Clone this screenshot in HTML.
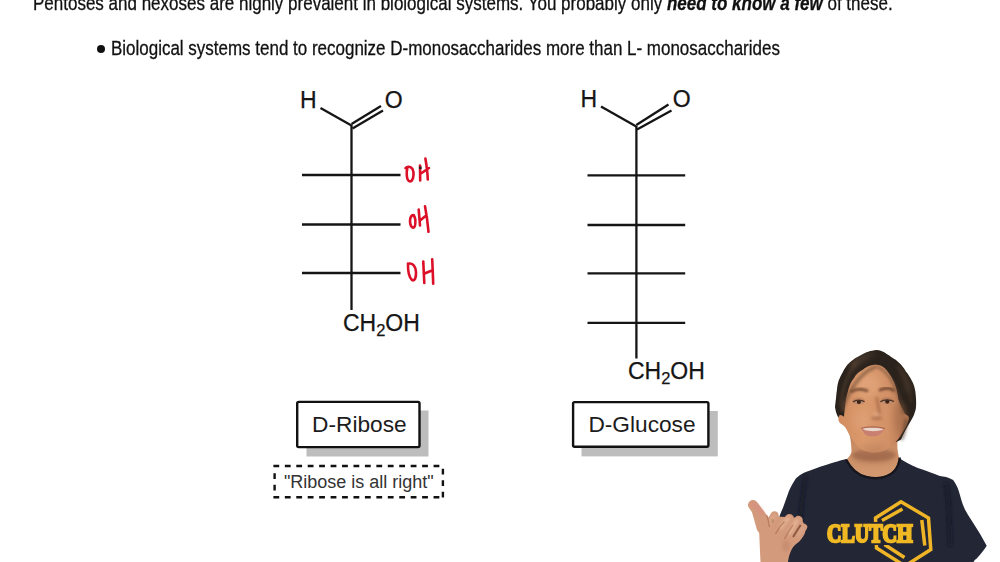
<!DOCTYPE html>
<html><head><meta charset="utf-8">
<style>
html,body{margin:0;padding:0;}
body{width:1000px;height:562px;overflow:hidden;background:#fff;position:relative;font-family:"Liberation Sans",sans-serif;color:#111;}
.t{position:absolute;white-space:nowrap;transform-origin:0 0;line-height:1;-webkit-text-stroke:0.3px #111;}
#l1{left:33px;top:-6.6px;font-size:20.5px;transform:scaleX(0.829);}
#l2{left:96px;top:37.5px;font-size:20.5px;transform:scaleX(0.828);}
svg{position:absolute;left:0;top:0;}
.lab{position:absolute;font-size:22px;line-height:1;white-space:nowrap;color:#1a1a1a;}
.box{position:absolute;background:#fff;border:2.5px solid #111;box-sizing:border-box;}
.sh{position:absolute;background:#bdbdbd;}
</style></head><body>
<div class="t" id="l1">Pentoses and hexoses are highly prevalent in biological systems. You probably only <b><i>need to know a few</i></b> of these.</div>
<div style="position:absolute;left:97px;top:44.8px;width:8px;height:8px;border-radius:50%;background:#111;"></div>
<div class="t" id="l2"><span style="visibility:hidden">●</span> Biological systems tend to recognize D-monosaccharides more than L- monosaccharides</div>

<svg width="1000" height="562" viewBox="0 0 1000 562">
  <g stroke="#151515" stroke-width="2.3" fill="none" stroke-linecap="butt">
    <!-- ribose -->
    <line x1="320.5" y1="108" x2="351.5" y2="125.5"/>
    <line x1="351.5" y1="124" x2="381" y2="106"/>
    <line x1="352.5" y1="128.5" x2="383" y2="110.5"/>
    <line x1="351.5" y1="125" x2="351.5" y2="310"/>
    <line x1="302" y1="175" x2="400.5" y2="175"/>
    <line x1="302" y1="224.5" x2="400.5" y2="224.5"/>
    <line x1="302" y1="273" x2="400.5" y2="273"/>
    <!-- glucose -->
    <line x1="601" y1="106.5" x2="636.3" y2="126.5"/>
    <line x1="636.3" y1="125" x2="668.5" y2="104.5"/>
    <line x1="637" y1="129.5" x2="671.5" y2="110.5"/>
    <line x1="636.4" y1="126" x2="636.4" y2="358.5"/>
    <line x1="587.5" y1="175.4" x2="685.2" y2="175.4"/>
    <line x1="587.5" y1="225" x2="685.2" y2="225"/>
    <line x1="587.5" y1="273.3" x2="685.2" y2="273.3"/>
    <line x1="587.5" y1="322.9" x2="685.2" y2="322.9"/>
  </g>
  <!-- handwritten red OH -->
  <g stroke="#dc1028" stroke-width="2.6" fill="none" stroke-linecap="round" stroke-linejoin="round">
    <path d="M405.5 168 C407 166.3 410.5 166 412.5 169 C414 172 414 178.5 411.5 181 C409 182.5 407 180 406.8 175.5 C406.6 172 406.8 170 407.3 168.5"/>
    <path d="M420 165.5 L420.2 180.5 M420.2 174 L429 168 M425.4 158.5 C426.5 165 427.5 172 427.8 179.5"/>
    <path d="M414 215.3 C411.5 214.3 410 217.5 410 221 C410 225 411.5 227.8 413.3 227.6 C415 227.3 415.6 223.5 415.3 219.5 C415 217 414.3 216 413.3 215.5"/>
    <path d="M418.7 209.5 L420 225.5 M420 220.5 L426.5 215.2 M425 206.3 C426.5 214 427.8 224 428.5 231.8"/>
    <path d="M408 263.5 C407.8 270 408.8 277 412 280 C414.8 281.5 416.3 277.5 416 272 C415.6 266.5 413 263 409.5 263.5"/>
    <path d="M423.3 261.5 C423.5 268 424 276 424.3 283 M424 273.7 L432.5 270.2 M432.2 259.3 C432.6 268 433 276 433.2 283.8"/>
  </g>
  <rect x="419" y="166.5" width="2.6" height="2.6" fill="#222"/>
</svg>

<svg width="1000" height="562" viewBox="0 0 1000 562" style="position:absolute;left:0;top:0;">
  <rect x="306.5" y="410.5" width="122" height="46" fill="#bdbdbd"/>
  <rect x="581.5" y="411" width="136.3" height="45.4" fill="#bdbdbd"/>
  <rect x="297.2" y="401.9" width="122.3" height="45.2" rx="1.5" fill="#fff" stroke="#111" stroke-width="2.4"/>
  <rect x="573.1" y="402.1" width="135.3" height="44.6" rx="1.5" fill="#fff" stroke="#111" stroke-width="2.4"/>
  <g stroke="#111" stroke-width="2.4" stroke-dasharray="5.8 5.64" fill="none">
    <path d="M273.4 466 H440"/>
    <path d="M273.4 497.2 H440"/>
    <path d="M274.6 473.2 V491"/>
    <path d="M442.9 468.8 V497.5"/>
  </g>
</svg>
<svg width="1000" height="562" viewBox="0 0 1000 562" style="position:absolute;left:0;top:0;">
  <g font-family="Liberation Sans" fill="#151515" stroke="#151515" stroke-width="0.25">
    <text x="300" y="108" font-size="23">H</text>
    <text x="384.7" y="108" font-size="23">O</text>
    <text x="342.9" y="330.6" font-size="23">CH<tspan font-size="16.5" dy="5">2</tspan><tspan dy="-5">OH</tspan></text>
    <text x="580.6" y="106.5" font-size="23">H</text>
    <text x="672.7" y="107.2" font-size="23">O</text>
    <text x="627.9" y="379" font-size="23">CH<tspan font-size="16.5" dy="5">2</tspan><tspan dy="-5">OH</tspan></text>
  </g>
  <g font-family="Liberation Sans" fill="#1c1c1c">
    <text x="312.1" y="432.2" font-size="22.7">D-Ribose</text>
    <text x="588.4" y="432.4" font-size="22.7">D-Glucose</text>
    <text x="283.9" y="488.2" font-size="18" fill="#333">"Ribose is all right"</text>
  </g>
</svg>
<svg width="1000" height="562" viewBox="0 0 1000 562" style="position:absolute;left:0;top:0;">
  <defs>
    <filter id="soft" x="-10%" y="-10%" width="120%" height="120%"><feGaussianBlur stdDeviation="0.6"/></filter>
    <filter id="soft2" x="-30%" y="-30%" width="160%" height="160%"><feGaussianBlur stdDeviation="1.6"/></filter>
    <filter id="soft2b" x="-30%" y="-30%" width="160%" height="160%"><feGaussianBlur stdDeviation="0.9"/></filter>
    <clipPath id="hairClip"><path d="M877 350 C870 350.5 866 352.5 862 354.5 C857 357 853 359.5 849.4 362.8 C846 366 844.5 369 843 371.7 C841 375 839.7 378 838.7 380.6 C837.6 384 837.2 387 837 389.5 C836.5 393 836.2 396 836 398.4 C835.5 402 835.2 405 835 407 C835.5 411 836.5 414 838 417 L846 424 C848 433 851 438 856 442 L896 442 C899 440.5 900 440 901 439.4 C903 435 905 431 906.3 428.7 C909 424 911.5 420 913.5 416 C915 412 916 409 916 407 C916.2 404 916.2 401 916 398.4 C915.8 395 915.5 392 915 389.5 C914 385 913 383 911.7 380.6 C910 377 908 374 906 371.7 C904 368 901.5 365 899 362.8 C897 360.5 894.5 359 892 357.5 C890 356 888.5 355 886.7 354 C884 352 881.5 350.5 877 350 Z"/></clipPath>
    <filter id="soft3" x="-30%" y="-30%" width="160%" height="160%"><feGaussianBlur stdDeviation="3"/></filter>
    <linearGradient id="faceG" x1="0" y1="0" x2="1" y2="0">
      <stop offset="0" stop-color="#d18c60"/>
      <stop offset="0.35" stop-color="#db9a6c"/>
      <stop offset="0.7" stop-color="#d39167"/>
      <stop offset="1" stop-color="#ad724e"/>
    </linearGradient>
    <linearGradient id="neckG" x1="0" y1="0" x2="0" y2="1">
      <stop offset="0" stop-color="#a8704f"/>
      <stop offset="0.35" stop-color="#c98b64"/>
      <stop offset="1" stop-color="#d49a70"/>
    </linearGradient>
    <linearGradient id="handG" x1="0" y1="0" x2="1" y2="0.6">
      <stop offset="0" stop-color="#d6957c"/>
      <stop offset="0.5" stop-color="#d49c7c"/>
      <stop offset="1" stop-color="#c08668"/>
    </linearGradient>
  </defs>
  <g filter="url(#soft)">
    <!-- shirt -->
    <path fill="#222636" d="M846.6 459 C838 461 830 463.5 825.8 465 C818 467.5 811 470 805.8 472 C799 475 796 478 794.9 480 C791 486 789 491 787.9 493.9 L783 507.8 C781 512 780 515 779 517.8 C774 532 770 546 766 562 L973.6 562 C974.5 560 975.5 559.5 976.5 558.8 C979 556 981.5 553 983.8 550 C985 548.5 986 547 986.7 545.7 C983 539 980 533.5 976.5 528.2 C972 521 968 515 964.8 509.2 C962 503 960.5 497 959 491.7 C957.5 487 955.5 483 953.1 480 C948 477 944 476.5 939.8 476 C932 473 925 470 917.8 468 C910 465 904 461 899 458 Z"/>
    
    <!-- neck -->
    <path fill="url(#neckG)" d="M846 425 C850 430 851.5 445 851.5 452 C851 455 848 458 846.6 459.5 C850 468 857 474 866 476 C870 477 873 477.5 876 477.5 C883 477 889 475 893 471 C897 467 899 461 899 457.5 C897.5 452 897 446 897.5 439 L900 425 Z"/>
    <!-- collar rib -->
    <path fill="none" stroke="#12141e" stroke-width="2.4" d="M846 459.5 C851 469 858 475 866 476.8 C870 477.8 873 478.2 876 478.2 C884 477.8 890 475.5 894 471.5 C898 467 899.5 462 899.8 457.5"/>
  </g>
  <g filter="url(#soft2)">
    <path d="M946 483 C949 500 950 525 950 546" stroke="#151824" stroke-width="3.5" fill="none" opacity="0.6"/>
    <path d="M806 476 C803 490 801.5 505 800.5 520" stroke="#12151e" stroke-width="3" fill="none" opacity="0.6"/>
    <ellipse cx="874" cy="455" rx="22" ry="6" fill="#8e5a40" opacity="0.55"/>
  </g>
  <!-- hair back mass -->
  <path filter="url(#soft)" fill="#29211a" d="M877 350 C870 350.5 866 352.5 862 354.5 C857 357 853 359.5 849.4 362.8 C846 366 844.5 369 843 371.7 C841 375 839.7 378 838.7 380.6 C837.6 384 837.2 387 837 389.5 C836.5 393 836.2 396 836 398.4 C835.5 402 835.2 405 835 407 C835.5 411 836.5 414 838 417 L846 424 C848 433 851 438 856 442 L896 442 C899 440.5 900 440 901 439.4 C903 435 905 431 906.3 428.7 C909 424 911.5 420 913.5 416 C915 412 916 409 916 407 C916.2 404 916.2 401 916 398.4 C915.8 395 915.5 392 915 389.5 C914 385 913 383 911.7 380.6 C910 377 908 374 906 371.7 C904 368 901.5 365 899 362.8 C897 360.5 894.5 359 892 357.5 C890 356 888.5 355 886.7 354 C884 352 881.5 350.5 877 350 Z"/>
  <!-- face -->
  <path filter="url(#soft)" fill="url(#faceG)" d="M847.4 393.4 C849 386 851 381 853.8 378.4 C856 374 859 371.5 862.4 369.9 C866 367 869.5 365.5 873 365 C876 364.6 878.5 364.8 880.5 365.6 C884 367 886 369.5 888 372 C890.5 375 892.5 379 894.4 382.7 C896.5 388 897.8 394 898.6 400 C900.5 405 903 410 905 414 C907 415 908.5 416 909 417.7 C908.5 421 907 424 906.4 425.7 C904.5 429 903 432 901 435 C899 438.5 897.5 440 895.8 441.7 C892 446 888 449 883.7 451 C879 452.6 875 453 871.7 452.4 C867 452 863 450.5 859.7 448.4 C856.5 445.5 854 442 851.7 439 C849 434 847 430 845 427 C843.5 425.5 842 424.5 840.5 423.5 C839 422 838.3 420.5 838.4 419.5 C838.3 417 839 415.5 840 415 C842 415 843.5 416 844 417 C844.5 410 845.5 400 847.4 393.4 Z"/>
  <!-- face shading -->
  <g filter="url(#soft3)">
    <ellipse cx="868" cy="385" rx="13" ry="11" fill="#e4a880" opacity="0.55"/>
    <ellipse cx="862" cy="420" rx="9" ry="9" fill="#e1a37c" opacity="0.5"/>
    <ellipse cx="900" cy="418" rx="6" ry="16" fill="#9c6446" opacity="0.45"/>
    <ellipse cx="873" cy="448" rx="14" ry="4" fill="#b97c5a" opacity="0.5"/>
    <ellipse cx="873" cy="458" rx="20" ry="5" fill="#9a6247" opacity="0.45"/>
  </g>
  <!-- hair strands / highlights -->
  <g clip-path="url(#hairClip)"><g filter="url(#soft3)" opacity="0.5">
    <path d="M850 362 C858 355 868 352 878 352 C870 356 860 362 852 372 Z" fill="#6e5644"/>
    <path d="M900 366 C906 372 910 380 912 392 L906 392 C904 382 902 374 898 368 Z" fill="#5e4838"/>
  </g></g>
  <g filter="url(#soft2)" fill="none" stroke-linecap="round">
    <path d="M875 367 C865 371 856 381 850 392 C847 398 844 404 842.5 410" stroke="#6e4c35" stroke-width="3.2" opacity="0.65"/>
    <path d="M878 367 C887 371 893 381 897.5 392 C900.5 400 902.5 406 903.5 413" stroke="#5e412e" stroke-width="3" opacity="0.55"/>
    <path d="M856 363 C849 372 843 386 840.5 405" stroke="#5a4232" stroke-width="3" opacity="0.55"/>
    <path d="M897 366 C905 374 909 386 911 402" stroke="#4a3628" stroke-width="2.5" opacity="0.5"/>
    <path d="M906 420 C905 428 904 434 902 439" stroke="#3a2a20" stroke-width="2.5" opacity="0.6"/>
  </g>
  <g filter="url(#soft)">
    <!-- eyebrows -->
    <g filter="url(#soft2b)"><path d="M850.5 392 C854 390 858 389.2 862 389.4 C864.5 389.6 866.5 390.3 868 391.2" stroke="#6e4430" stroke-width="3" fill="none" opacity="0.85"/>
    <path d="M879 390.5 C882 389 885 388 888 388.2 C890.5 388.5 892.5 389.5 894.5 391" stroke="#6a412c" stroke-width="3" fill="none" opacity="0.85"/></g>
    <!-- eye sockets -->
    <ellipse cx="858.7" cy="401" rx="6.5" ry="3.5" fill="#b77d5c" opacity="0.6"/>
    <ellipse cx="887.1" cy="400.6" rx="6.5" ry="3.5" fill="#ad7656" opacity="0.6"/>
    <!-- eyes -->
    <path d="M853.3 402.3 C856 400.2 861.5 400.2 864.3 402.3 C861.5 404 856 404 853.3 402.3 Z" fill="#bf917a"/>
    <path d="M880.5 402 C884 399.8 890 399.8 893.8 402 C890 403.8 884 403.8 880.5 402 Z" fill="#bf917a"/>
    <circle cx="858.9" cy="402" r="2.1" fill="#3b2418"/>
    <circle cx="887.3" cy="401.6" r="2.1" fill="#3b2418"/>
    <path d="M853 402 C856 399.6 861.5 399.6 864.5 401.8" stroke="#4a3024" stroke-width="1.2" fill="none"/>
    <path d="M880.3 401.7 C884 399.3 890 399.3 894 401.6" stroke="#4a3024" stroke-width="1.2" fill="none"/>
  </g>
  <g filter="url(#soft2)">
    <!-- nose shading -->
    <path d="M876.5 397 C878 403 879 409 879.5 414" stroke="#9a5e40" stroke-width="2.6" fill="none" opacity="0.7"/>
    <ellipse cx="876.5" cy="418" rx="5.5" ry="1.8" fill="#955c40" opacity="0.65"/>
    <ellipse cx="876" cy="414.5" rx="2.5" ry="2" fill="#eab591" opacity="0.6"/>
  </g>
  <g filter="url(#soft)">
    <!-- mouth -->
    <path d="M861.5 428.5 C868 426.5 877 426.5 884.5 428.8 C882 434 878 436.5 872 436.5 C866.5 436.5 863 433.5 861.5 428.5 Z" fill="#c98070"/>
    <path d="M862.5 428.8 C868 427.5 877 427.5 883.5 429 C881 431.8 866 432 862.5 428.8 Z" fill="#ead8cc"/>
    <path d="M861 428.3 C868 426.3 877 426.3 885 428.5" stroke="#9a5a44" stroke-width="1" fill="none" opacity="0.8"/>
  </g>
  <!-- logo -->
  <g filter="url(#soft)" stroke="#efb526" stroke-width="3.5" fill="none" stroke-linejoin="miter">
    <path d="M876.5 548 L875.5 518 L901 501.8 L928.5 518 L930.8 549.5 L905 566 Z"/>
    <path d="M882 520.5 L902.5 509"/>
    <path d="M921.8 520 L924.8 545.5"/>
    <path d="M884.5 544.5 L904.5 557.5"/>
  </g>
  <g filter="url(#soft)">
    <rect x="824" y="522" width="91" height="23" fill="#222636"/>
    <text x="827" y="542.3" font-family="Liberation Serif" font-weight="bold" font-size="25" fill="#f0b824" stroke="#f0b824" stroke-width="2.5" textLength="85.5" lengthAdjust="spacingAndGlyphs">CLUTCH</text>
  </g>
  <!-- hand -->
  <g filter="url(#soft)">
    <g fill="#d39a7b" stroke="#d39a7b" stroke-linecap="round">
      <path stroke="none" d="M750 505 L753 503 L766 518 L760 534 L757 530 Z"/>
      <path stroke="none" d="M759 528 C762 522 766 518 770 516 L800 518 C804 522 806 527 805 533 C803 538 799 542 795 545 C791 549 789 555 788 562 L760.5 562 C760 552 759.5 540 759 528 Z"/>
      <line x1="753" y1="505" x2="765" y2="521" stroke-width="10"/>
      <line x1="769.5" y1="527" x2="774.5" y2="515.5" stroke-width="8.5"/>
      <line x1="779" y1="532" x2="789.5" y2="518.5" stroke-width="9"/>
      <line x1="788" y1="537" x2="798.5" y2="520" stroke-width="8.5"/>
      <line x1="797" y1="539" x2="804" y2="527" stroke-width="6.5"/>
    </g>
  </g>
  <g filter="url(#soft2)">
    <path d="M751 503 C755 505 759 509 763 514" stroke="#d98c80" stroke-width="4" fill="none" opacity="0.7"/>
    <path d="M770 524 C771.5 520 773 517 775 515" stroke="#e4b092" stroke-width="3" fill="none" opacity="0.8"/>
    <path d="M780 529 C783 524 786 520 789 517.5" stroke="#e8b99a" stroke-width="3.5" fill="none" opacity="0.85"/>
    <path d="M789 534 C792 529 795 523 798 519.5" stroke="#e8b99a" stroke-width="3.5" fill="none" opacity="0.85"/>
    <path d="M798 536 C800 532 802 529 804 526" stroke="#dcab90" stroke-width="2.5" fill="none" opacity="0.8"/>
    <ellipse cx="786" cy="546" rx="4" ry="6" fill="#b97d60" opacity="0.4"/>
  </g>
  <g filter="url(#soft)">
    <path d="M766.5 515 C768 519 769 523 769.5 527" stroke="#a86a50" stroke-width="1.4" fill="none" opacity="0.6"/>
    <path d="M775.5 534 C778 529 781.5 524.5 784.5 521.5" stroke="#a8694e" stroke-width="1.5" fill="none" opacity="0.6"/>
    <path d="M784.5 539 C787 534 790 529 793 525" stroke="#a8694e" stroke-width="1.5" fill="none" opacity="0.55"/>
    <path d="M793 537 C795.5 533 798 529 800.7 525" stroke="#7d4834" stroke-width="2" fill="none" opacity="0.8"/>
    <ellipse cx="772.6" cy="521" rx="1.6" ry="2.3" fill="#8d6a3c" opacity="0.3"/>
  </g>
</svg>
</body></html>
